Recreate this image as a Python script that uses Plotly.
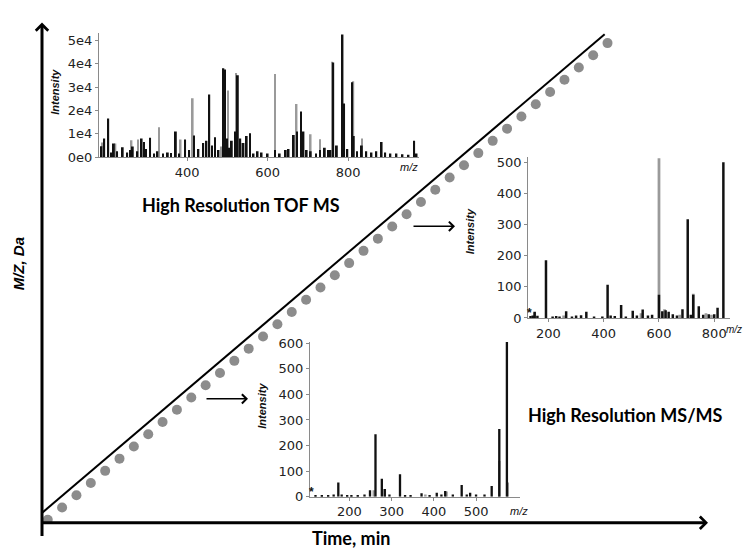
import plotly.graph_objects as go

# ---------------- data ----------------
# main schematic: observed scans (grey dots) and ideal m/z ramp (black line)
scan_time = [0.4, 1.4, 2.4, 3.4, 4.4, 5.4, 6.4, 7.4, 8.4, 9.4,
             10.4, 11.4, 12.4, 13.4, 14.4, 15.4, 16.4, 17.4, 18.4, 19.4,
             20.4, 21.4, 22.4, 23.4, 24.4, 25.4, 26.4, 27.4, 28.4, 29.4,
             30.4, 31.4, 32.4, 33.4, 34.4, 35.4, 36.4, 37.4, 38.4, 39.4]
scan_mz = [6, 31, 56, 81, 106, 131, 156, 181, 206, 231,
           256, 281, 306, 331, 356, 381, 406, 431, 456, 481,
           506, 531, 556, 581, 606, 631, 656, 681, 706, 731,
           756, 781, 806, 831, 856, 881, 906, 931, 956, 981]
ramp_time = [0, 39.2]
ramp_mz = [20, 999]

# inset 1: high resolution TOF MS
tof_mz_black = [187, 194, 204, 212, 218, 226, 240, 251, 258, 265, 276, 287, 293, 298,
                308, 318, 326, 340, 352, 360, 372, 380, 395, 405, 417, 428, 440, 448,
                455, 462, 469, 478, 490, 494, 499, 505, 511, 519, 526, 532, 540, 548,
                556, 565, 575, 585, 600, 618, 630, 645, 652, 665, 673, 683, 689, 697,
                707, 720, 730, 742, 750, 756, 763, 772, 786, 790, 798, 810, 814, 822,
                834, 845, 858, 870, 883, 892, 905, 920, 935, 950, 964, 970]
tof_int_black = [4700, 8000, 16500, 2000, 5800, 2500, 4200, 2000, 3000, 4500, 2500, 8000, 6500, 3500,
                 8300, 1500, 2500, 1500, 2000, 1800, 11000, 1500, 7500, 3000, 9300, 3500, 6000, 7000,
                 26800, 5000, 8500, 3000, 38000, 37500, 8000, 4000, 7000, 11000, 35000, 8000, 6000, 9000,
                 10200, 1500, 2500, 2000, 1500, 3000, 1500, 3000, 3500, 9500, 11000, 19500, 11000, 3000,
                 2500, 1500, 3000, 4000, 3000, 3000, 40500, 5000, 52500, 23000, 3500, 32000, 9000, 2500,
                 5000, 2500, 2000, 2500, 6500, 2000, 1500, 1500, 1200, 1000, 7000, 1500]
tof_mz_grey = [190, 222, 262, 278, 330, 384, 414, 484, 502, 522, 536, 618, 672, 688,
               707, 730, 760, 813, 834, 883]
tof_int_grey = [6200, 5800, 7200, 7500, 12800, 7500, 25200, 4500, 28500, 36000, 6000, 35600, 22700, 10800,
                9800, 7600, 40800, 32500, 8000, 6500]
tof_yticks = [0, 10000, 20000, 30000, 40000, 50000]
tof_ytext = ["0e0", "1e4", "2e4", "3e4", "4e4", "5e4"]
tof_xticks = [400, 600, 800]

# inset 2: MS/MS spectrum (later scan)
ms2a_mz_grey = [150, 255, 535, 600, 620, 675, 724, 770, 790]
ms2a_int_grey = [18, 8, 15, 515, 28, 10, 78, 15, 10]
ms2a_mz_black = [135, 143, 150, 160, 191, 215, 228, 240, 264, 285, 300, 318, 337, 365, 395,
                 414, 425, 440, 463, 480, 505, 520, 541, 560, 575, 600, 612, 624, 635, 650,
                 665, 685, 704, 715, 724, 744, 760, 780, 800, 812, 833]
ms2a_int_black = [6, 8, 20, 7, 186, 5, 6, 5, 22, 5, 8, 9, 20, 4, 5,
                  107, 8, 6, 42, 5, 23, 8, 27, 8, 10, 75, 22, 25, 20, 12,
                  8, 28, 318, 10, 75, 38, 10, 12, 12, 33, 502]
ms2a_yticks = [0, 100, 200, 300, 400, 500]
ms2a_xticks = [200, 400, 600, 800]

# inset 3: MS/MS spectrum (earlier scan)
ms2b_mz_grey = [258, 284, 380, 430, 555, 575]
ms2b_int_grey = [25, 30, 8, 20, 140, 55]
ms2b_mz_black = [120, 135, 150, 163, 174, 182, 195, 205, 220, 236, 249, 262, 277, 284, 295,
                 320, 332, 345, 371, 390, 407, 418, 427, 445, 466, 478, 486, 500, 520, 537,
                 555, 573]
ms2b_int_black = [3, 4, 5, 8, 55, 8, 6, 5, 5, 8, 25, 244, 70, 30, 8,
                  88, 6, 4, 13, 5, 15, 8, 22, 8, 46, 8, 15, 8, 8, 42,
                  265, 610]
ms2b_yticks = [0, 100, 200, 300, 400, 500, 600]
ms2b_xticks = [200, 300, 400, 500]

# ---------------- figure ----------------
W, H = 744, 557


def px(x):
    return x / W


def py(y):
    return 1 - y / H


BLACK = "#111111"
GREY = "#9a9a9a"
TICKFONT = dict(family="DejaVu Sans", size=13, color="#222222")

fig = go.Figure()
fig.add_trace(go.Scatter(x=ramp_time, y=ramp_mz, mode="lines",
                         line=dict(color="black", width=2),
                         xaxis="x", yaxis="y", hoverinfo="skip", showlegend=False))
fig.add_trace(go.Scatter(x=scan_time, y=scan_mz, mode="markers",
                         marker=dict(size=10, color="#8c8c8c"),
                         xaxis="x", yaxis="y", hoverinfo="skip", showlegend=False))


def add_bars(xs, ys, color, width, ax, ay):
    fig.add_trace(go.Bar(x=xs, y=ys, width=width, marker=dict(color=color, line=dict(width=0)),
                         xaxis=ax, yaxis=ay, showlegend=False, hoverinfo="skip"))


add_bars(tof_mz_grey, tof_int_grey, GREY, 4, "x2", "y2")
add_bars(tof_mz_black, tof_int_black, BLACK, 4.5, "x2", "y2")
add_bars(ms2a_mz_grey, ms2a_int_grey, GREY, 10, "x3", "y3")
add_bars(ms2a_mz_black, ms2a_int_black, BLACK, 9, "x3", "y3")
add_bars(ms2b_mz_grey, ms2b_int_grey, GREY, 6, "x4", "y4")
add_bars(ms2b_mz_black, ms2b_int_black, BLACK, 5.5, "x4", "y4")


def inset_x(dom, rng, anchor, ticks):
    return dict(domain=dom, range=rng, anchor=anchor, showline=True, linecolor="#8a8a8a",
                linewidth=1.2, ticks="outside", ticklen=3, tickcolor="#8a8a8a",
                tickvals=ticks, tickfont=TICKFONT, showgrid=False, zeroline=False,
                fixedrange=True)


def inset_y(dom, rng, anchor, ticks, text=None):
    d = dict(domain=dom, range=rng, anchor=anchor, showline=True, linecolor="#8a8a8a",
             linewidth=1.2, ticks="outside", ticklen=3, tickcolor="#8a8a8a",
             tickvals=ticks, tickfont=TICKFONT, showgrid=False, zeroline=False,
             fixedrange=True)
    if text is not None:
        d["ticktext"] = text
    return d


fig.update_layout(
    width=W, height=H, autosize=False,
    margin=dict(l=0, r=0, t=0, b=0),
    paper_bgcolor="white", plot_bgcolor="rgba(0,0,0,0)",
    barmode="overlay",
    xaxis=dict(domain=[px(42), px(708)], range=[0, 46.4], visible=False, fixedrange=True),
    yaxis=dict(domain=[py(530), py(17)], range=[0, 1023], visible=False, fixedrange=True),
    xaxis2=inset_x([px(99), px(418.6)], [181, 975], "y2", tof_xticks),
    yaxis2=inset_y([py(155), py(28)], [0, 53000], "x2", tof_yticks, tof_ytext),
    xaxis3=inset_x([px(528.3), px(730)], [127, 857], "y3", ms2a_xticks),
    yaxis3=inset_y([py(320), py(154.5)], [0, 520], "x3", ms2a_yticks),
    xaxis4=inset_x([px(310), px(520)], [107, 604], "y4", ms2b_xticks),
    yaxis4=inset_y([py(503.3), py(344.7)], [0, 605], "x4", ms2b_yticks),
)

ann = []
# main axis arrows
ann.append(dict(x=0, y=1, xref="x domain", yref="y domain", ax=0, ay=515,
                axref="pixel", ayref="pixel", text="", showarrow=True,
                arrowhead=4, arrowsize=0.8, arrowwidth=3, arrowcolor="black"))
ann.append(dict(x=1, y=0, xref="x domain", yref="y domain", ax=-668, ay=0,
                axref="pixel", ayref="pixel", text="", showarrow=True,
                arrowhead=4, arrowsize=0.8, arrowwidth=3, arrowcolor="black"))
# small pointer arrows
for hx, hy in [(455, 226), (248, 403)]:
    ann.append(dict(x=px(hx), y=py(hy), xref="paper", yref="paper", ax=-43, ay=0,
                    text="", showarrow=True, arrowhead=4, arrowsize=1.2, arrowwidth=1.5,
                    arrowcolor="black"))


def label(cx, cy, text, font, angle=0, xanchor="center"):
    ann.append(dict(x=px(cx), y=py(cy), xref="paper", yref="paper", showarrow=False,
                    xanchor=xanchor, yanchor="middle", text=text, font=font,
                    textangle=angle))


BIG = dict(family="Lato", size=18, color="black")
label(241, 204, "<b>High Resolution TOF MS</b>", BIG)
label(625, 420, "<b>High Resolution MS/MS</b>", BIG)
label(351, 546, "<b>Time, min</b>", BIG)
label(18, 265, "<b><i>M/Z, Da</i></b>", dict(family="Liberation Sans", size=15, color="black"), -90)

SMALL = dict(family="Liberation Sans", size=11, color="#111")
for cx, cy in [(55, 88), (470, 231), (262, 410)]:
    label(cx, cy, "<b><i>Intensity</i></b>", SMALL, -90)
MZF = dict(family="Liberation Sans", size=11, color="#111")
label(409, 165, "<i>m/z</i>", MZF)
label(519, 518, "<i>m/z</i>", MZF)
label(744, 332, "<i>m/z</i>", dict(family="Liberation Sans", size=10, color="#111"),
      xanchor="right")
# asterisks at inset origins
for xr, yr in [("x3 domain", "y3 domain"), ("x4 domain", "y4 domain")]:
    ann.append(dict(x=0, y=0, xref=xr, yref=yr, showarrow=False, text="<b>*</b>",
                    xanchor="center", yanchor="middle", yshift=5, xshift=1,
                    font=dict(family="Liberation Sans", size=12, color="#111")))

fig.update_layout(annotations=ann)
fig.write_html("out.html", config={"displayModeBar": False},
               post_script="document.body.style.margin='0';")
